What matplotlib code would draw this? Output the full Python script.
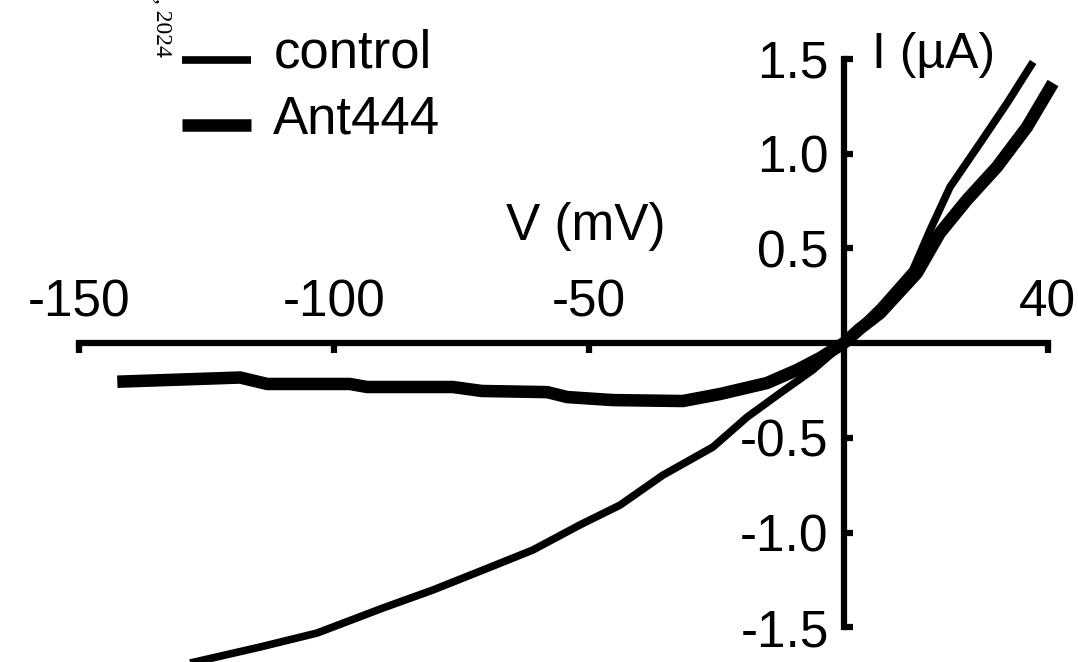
import matplotlib
matplotlib.use("Agg")
import matplotlib.pyplot as plt
from matplotlib.legend_handler import HandlerLine2D

plt.rcParams["font.family"] = ["Liberation Sans", "DejaVu Sans"]
plt.rcParams["axes.unicode_minus"] = False

# I-V traces (mV, uA)
control_v = [-132, -127.3, -114.5, -103.3, -90.4, -80.6, -70.8, -61.0, -51.8, -43.9,
             -35.5, -25.7, -19.0, -12.5, -6.1, 0, 3.1, 7.1, 13.5, 16.9, 20.8, 26.7, 32.0, 37.1]
control_i = [-1.71, -1.683, -1.604, -1.530, -1.398, -1.303, -1.198, -1.092, -0.960, -0.855,
             -0.697, -0.549, -0.391, -0.264, -0.142, 0, 0.084, 0.19, 0.385, 0.596, 0.823,
             1.055, 1.266, 1.483]

ant_v = [-142.5, -118.4, -113.1, -96.9, -93.5, -76.7, -71.0, -58.2, -54.3, -45.3, -31.6,
         -24.3, -15.1, -9.2, -4.7, 0, 3.1, 7.1, 14.3, 18.8, 24.1, 30.0, 35.9, 41.0]
ant_i = [-0.204, -0.182, -0.216, -0.216, -0.232, -0.232, -0.253, -0.259, -0.285, -0.301,
         -0.306, -0.269, -0.211, -0.142, -0.079, 0, 0.075, 0.158, 0.369, 0.580, 0.755,
         0.929, 1.140, 1.372]

x_ticks = [-150, -100, -50, 40]
x_ticklabels = ["-150", "-100", "-50", "40"]
y_ticks = [-1.5, -1.0, -0.5, 0.5, 1.0, 1.5]
y_ticklabels = ["-1.5", "-1.0", "-0.5", "0.5", "1.0", "1.5"]


class LowLine(HandlerLine2D):
    """Legend line sitting just above the text baseline, as in the original."""

    def create_artists(self, legend, orig_handle, xdescent, ydescent, width, height,
                       fontsize, trans):
        artists = super().create_artists(legend, orig_handle, xdescent, ydescent, width,
                                         height, fontsize, trans)
        for a in artists:
            a.set_ydata([y - 0.2 * fontsize for y in a.get_ydata()])
        return artists


fig = plt.figure(figsize=(10.78, 6.62), dpi=100)
ax = fig.add_axes([0, 0, 1, 1])
ax.set_xlim(-165.5, 45.9)
ax.set_ylim(-1.683, 1.81)

ax.plot(control_v, control_i, color="black", lw=5.5, solid_capstyle="butt", label="control")
ax.plot(ant_v, ant_i, color="black", lw=9, solid_capstyle="butt", label="Ant444")

# axes crossing at the origin
for side in ("left", "bottom", "top"):
    ax.spines[side].set_position(("data", 0))
ax.spines["right"].set_visible(False)
ax.spines["top"].set_visible(False)
ax.spines["left"].set_bounds(-1.5, 1.5)
ax.spines["bottom"].set_bounds(-150, 40)
for side in ("left", "bottom"):
    ax.spines[side].set_linewidth(4.5)
    ax.spines[side].set_capstyle("projecting")

ax.set_xticks(x_ticks, x_ticklabels)
ax.set_yticks(y_ticks, y_ticklabels)
ax.tick_params(axis="x", bottom=True, top=False, labelbottom=False, labeltop=True,
               direction="out", length=7, width=4.5, pad=4, labelsize=37)
ax.tick_params(axis="y", left=True, right=False, direction="in", length=6.5, width=4.5,
               pad=11, labelsize=37)

ax.text(-50.6, 0.543, "V (mV)", ha="center", va="baseline", fontsize=37)
ax.text(5.6, 1.451, "I (\u00b5A)", ha="left", va="baseline", fontsize=36)

ax.legend(loc="upper left", bbox_to_anchor=(0.1688, 0.957), frameon=False, fontsize=38,
          handlelength=1.31, handletextpad=0.42, labelspacing=0.3, borderpad=0,
          borderaxespad=0, handler_map={matplotlib.lines.Line2D: LowLine()})

fig.text(161 / 1078, 1 - 57 / 662, ", 2024", rotation=270, ha="center", va="bottom",
         fontsize=17, family="Liberation Serif")

fig.savefig("out.png", dpi=100)
